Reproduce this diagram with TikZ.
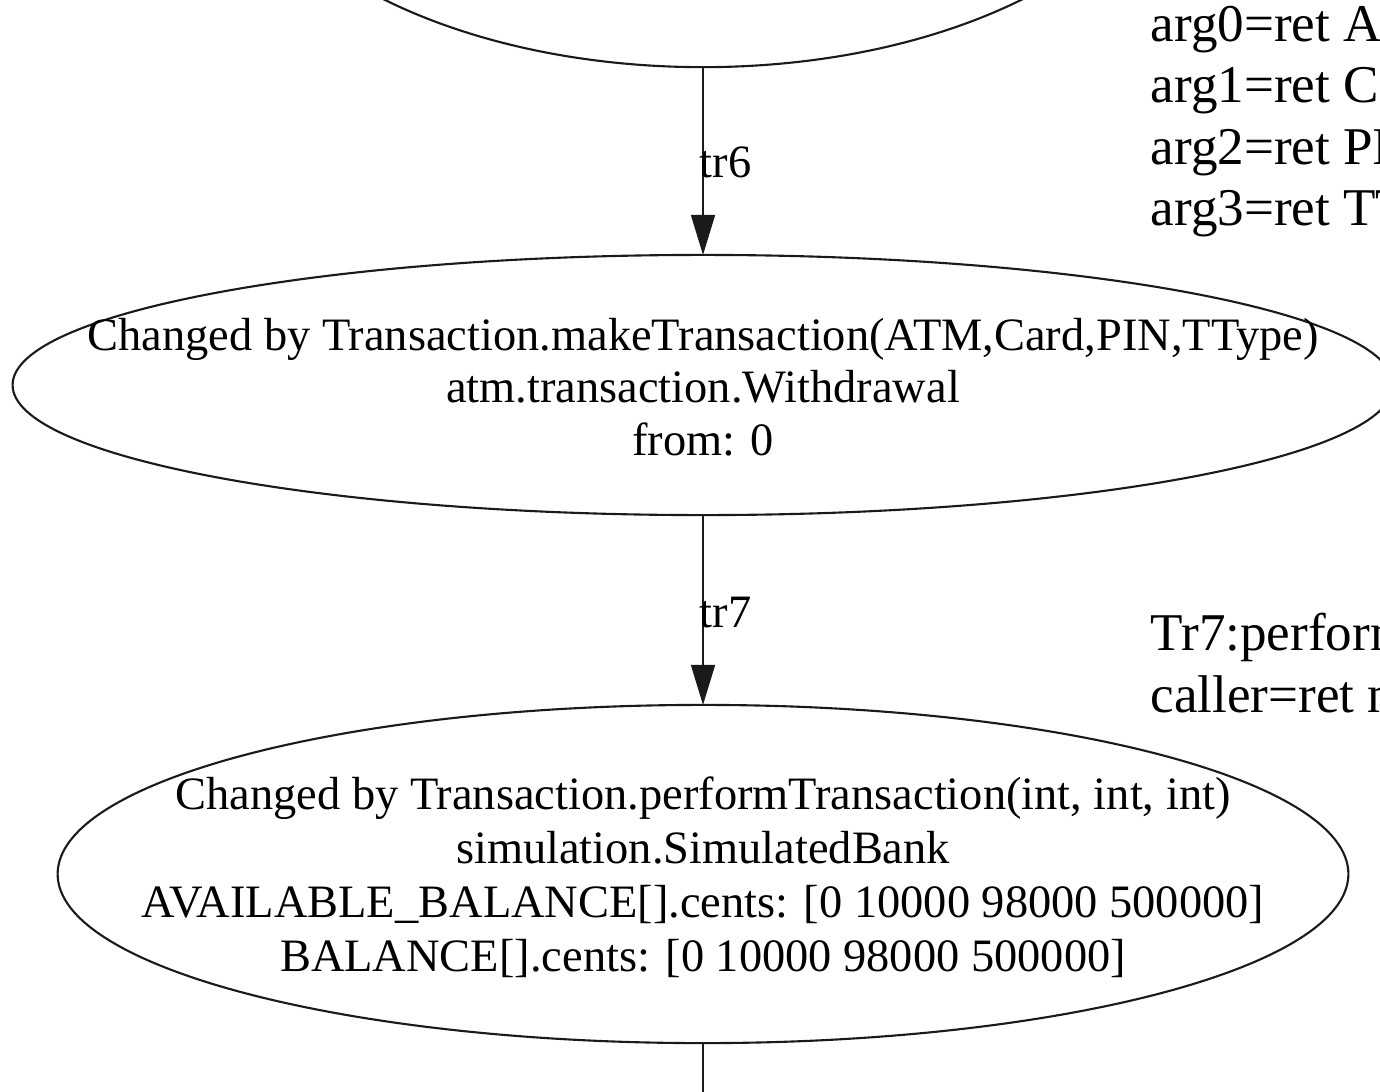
\documentclass[tikz,border=0pt]{standalone}
\usepackage{fontspec}
\setmainfont{Liberation Serif}
\usetikzlibrary{arrows.meta,shapes.geometric}
\definecolor{ink}{HTML}{1A1A1A}

\begin{document}
\begin{tikzpicture}[x=0.01cm,y=-0.01cm,>={Triangle[length=0.4cm,width=0.24cm]},
  every node/.style={font=\fontsize{13.2}{15}\selectfont},
  state/.style={ellipse,draw=ink,line width=0.6pt,inner sep=0pt,outer sep=0pt},
  edge/.style={->,draw=ink,line width=0.45pt},
  lbl/.style={anchor=base west,inner sep=0pt},
  note/.style={anchor=base west,inner sep=0pt,font=\fontsize{15.1}{18}\selectfont}]
\path[use as bounding box,clip] (0,0) rectangle (1380,1091);
% states
\node[state,minimum width=9.6cm,minimum height=5.36cm] (s5) at (703,-201) {};
\node[state,minimum width=13.8cm,minimum height=2.6cm] (s6) at (703,385) {};
\node[state,minimum width=12.9cm,minimum height=3.38cm] (s7) at (703,874) {};
\node[align=center,inner sep=0pt,font=\fontsize{13.2}{14.9}\selectfont] (s6txt) at (703,387)
  {Changed by Transaction.makeTransaction(ATM,Card,PIN,TType)\\atm.transaction.Withdrawal\\from: 0};
\node[align=center,inner sep=0pt,font=\fontsize{13.2}{15.4}\selectfont] (s7txt) at (703,877)
  {Changed by Transaction.performTransaction(int, int, int)\\simulation.SimulatedBank\\
   AVAILABLE\_BALANCE[].cents: [0 10000 98000 500000]\\BALANCE[].cents: [0 10000 98000 500000]};
\coordinate (s8) at (703,1200);
% transitions
\draw[edge] (s5) -- (s6);
\draw[edge] (s6) -- (s7);
\draw[edge,-] (s7) -- (s8);
\node[lbl] (tr6) at (699,177) {tr6};
\node[lbl] (tr7) at (699,627) {tr7};
% notes on the right
\foreach \t [count=\i from 0] in {arg0=ret A,arg1=ret C,arg2=ret PI,arg3=ret TT}
  \node[note] (arg\i) at (1150,42+61*\i) {\t};
\node[note] (tr7note) at (1150,650) {Tr7:perform};
\node[note] (caller) at (1150,712) {caller=ret m};
\end{tikzpicture}
\end{document}
